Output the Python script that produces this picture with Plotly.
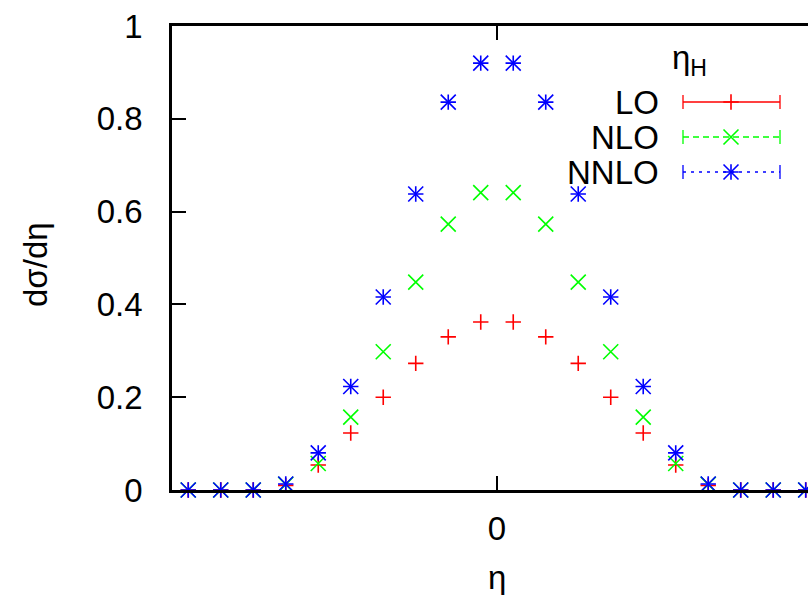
import plotly.graph_objects as go

# ---- data ----
eta = [-4.75, -4.25, -3.75, -3.25, -2.75, -2.25, -1.75, -1.25, -0.75, -0.25,
       0.25, 0.75, 1.25, 1.75, 2.25, 2.75, 3.25, 3.75, 4.25, 4.75]
lo = [0, 0, 0, 0.010, 0.054, 0.123, 0.200, 0.273, 0.330, 0.362,
      0.362, 0.330, 0.273, 0.200, 0.123, 0.054, 0.010, 0, 0, 0]
nlo = [0, 0, 0, 0.012, 0.057, 0.157, 0.298, 0.448, 0.573, 0.641,
       0.641, 0.573, 0.448, 0.298, 0.157, 0.057, 0.012, 0, 0, 0]
nnlo = [0, 0, 0, 0.013, 0.080, 0.223, 0.416, 0.638, 0.836, 0.920,
        0.920, 0.836, 0.638, 0.416, 0.223, 0.080, 0.013, 0, 0, 0]
series_names = ["LO", "NLO", "NNLO"]
y_ticks = [0, 0.2, 0.4, 0.6, 0.8, 1]
y_ticklabels = ["0", "0.2", "0.4", "0.6", "0.8", "1"]
x_ticks = [0]
x_ticklabels = ["0"]

RED, GREEN, BLUE = "#ff0000", "#00ff00", "#0000ff"
FONT = "Liberation Sans, Arial, Helvetica, sans-serif"
FS = 33

W, H = 808, 595
L, R, T, B = 172, 808, 26, 490  # plot area pixels


def px(x):
    return (x - L) / (R - L)


def py(y):
    return (B - y) / (B - T)


fig = go.Figure()


def pts(y, color, symbol, size, name):
    return go.Scatter(x=eta, y=y, mode="markers", name=name, showlegend=False,
                      cliponaxis=False,
                      marker=dict(symbol=symbol, size=size, color=color,
                                  line=dict(color=color, width=1.6)))


fig.add_trace(pts(lo, RED, "cross-thin", 11, "LO"))
fig.add_trace(pts(nlo, GREEN, "x-thin", 15, "NLO"))
fig.add_trace(pts(nnlo, BLUE, "cross-thin", 11, "NNLO"))
fig.add_trace(pts(nnlo, BLUE, "x-thin", 15, "NNLO"))

# ---- manual legend (gnuplot style, text left of sample) ----
leg_rows = [(102, RED, "solid", ["cross-thin"]),
            (137, GREEN, "6px,4px", ["x-thin"]),
            (172, BLUE, "3px,5px", ["cross-thin", "x-thin"])]
lx0, lx1, lxm = px(683), px(780), px(731)
for (yy, col, dash, syms), nm in zip(leg_rows, series_names):
    yp = py(yy)
    fig.add_trace(go.Scatter(x=[lx0, lx1], y=[yp, yp], xaxis="x2", yaxis="y2",
                             mode="lines", showlegend=False, hoverinfo="skip",
                             line=dict(color=col, width=1.3, dash=dash)))
    for s in syms:
        fig.add_trace(go.Scatter(x=[lxm], y=[yp], xaxis="x2", yaxis="y2",
                                 mode="markers", showlegend=False, hoverinfo="skip",
                                 cliponaxis=False,
                                 marker=dict(symbol=s, size=11 if s == "cross-thin" else 15,
                                             color=col, line=dict(color=col, width=1.6))))
    for xc in (lx0, lx1):
        fig.add_shape(type="line", xref="paper", yref="paper",
                      x0=xc, x1=xc, y0=py(yy - 7), y1=py(yy + 7),
                      line=dict(color=col, width=1.3))
    fig.add_annotation(x=px(661), y=yp, xref="paper", yref="paper", text=nm,
                       showarrow=False, xanchor="right", yanchor="middle",
                       font=dict(family=FONT, size=FS, color="black"))

fig.add_annotation(x=px(689), y=py(60), xref="paper", yref="paper",
                   text="η<sub>H</sub>", showarrow=False, xanchor="center",
                   yanchor="middle", font=dict(family=FONT, size=FS, color="black"))

# axis titles
fig.add_annotation(x=px(35), y=py(265), xref="paper", yref="paper",
                   text="dσ/dη", textangle=-90, showarrow=False,
                   xanchor="center", yanchor="middle",
                   font=dict(family=FONT, size=FS, color="black"))
fig.add_annotation(x=px(497), y=py(577), xref="paper", yref="paper",
                   text="η", showarrow=False, xanchor="center", yanchor="middle",
                   font=dict(family=FONT, size=FS, color="black"))

fig.update_layout(
    width=W, height=H,
    margin=dict(l=L, r=W - R, t=T, b=H - B, pad=0),
    paper_bgcolor="white", plot_bgcolor="white",
    showlegend=False,
    font=dict(family=FONT, size=FS, color="black"),
    xaxis=dict(range=[-5, 4.785], tickvals=x_ticks, ticktext=x_ticklabels,
               ticks="inside", ticklen=14, tickwidth=2, tickcolor="black",
               showline=True, linecolor="black", linewidth=2.5, mirror="ticks",
               showgrid=False, zeroline=False, ticklabelstandoff=8),
    yaxis=dict(range=[0, 1], tickvals=y_ticks, ticktext=y_ticklabels,
               ticks="inside", ticklen=14, tickwidth=2, tickcolor="black",
               showline=True, linecolor="black", linewidth=2.5, mirror=False,
               showgrid=False, zeroline=False, ticklabelstandoff=20),
    xaxis2=dict(range=[0, 1], overlaying="x", visible=False, anchor="y2"),
    yaxis2=dict(range=[0, 1], overlaying="y", visible=False, anchor="x2"),
)

fig.write_html("out.html")
